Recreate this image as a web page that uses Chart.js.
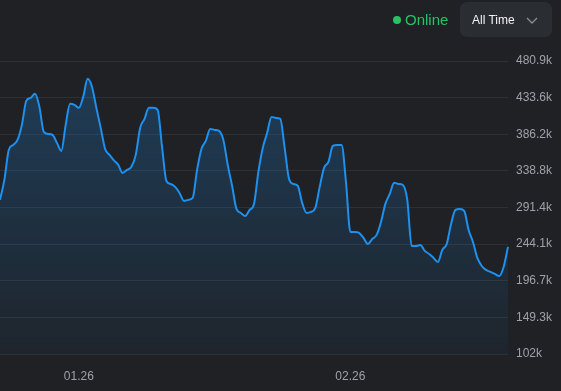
<!DOCTYPE html>
<html>
<head>
<meta charset="utf-8">
<script src="https://cdn.jsdelivr.net/npm/chart.js@4/dist/chart.umd.min.js"></script>
<style>
  html, body { margin: 0; padding: 0; background: #1f2125; }
  #wrap { position: relative; width: 561px; height: 391px; font-family: "Liberation Sans", Arial, sans-serif; }
  #chart { position: absolute; left: 0; top: 0; }
  .status { position: absolute; left: 393px; top: 10px; color: #27c265; font-size: 15px; line-height: 20px; }
  .status .dot { display: inline-block; width: 8px; height: 8px; border-radius: 50%; background: #27c265; margin-right: 4px; vertical-align: 1px; }
  .range { position: absolute; left: 460px; top: 2px; width: 92px; height: 35px; border-radius: 7px; background: #2a2d32; color: #f2f3f5; font-size: 12px; }
  .range span { position: absolute; left: 12px; top: 11px; }
  .range svg { position: absolute; left: 66px; top: 15px; }
</style>
</head>
<body>
<div id="wrap">
  <canvas id="chart" width="561" height="391"></canvas>
  <div class="status"><span class="dot"></span>Online</div>
  <div class="range"><span>All Time</span>
    <svg width="12" height="8" viewBox="0 0 12 8"><polyline points="1,1 6,6 11,1" fill="none" stroke="#8b8f95" stroke-width="1.3"/></svg>
  </div>
</div>
<script>
// half-day samples starting 2025-12-23
const startDate = new Date(2025, 11, 23);
const stepHours = 12;

// values in thousands
const players = [
  301.3, 327.1, 365.9, 372.4, 378.9, 398.3, 429.3, 433.2, 438.4, 421.6,
  389.2, 386.6, 385.4, 375.0, 364.6, 398.3, 425.5, 424.2, 420.3, 434.5,
  457.8, 447.5, 420.3, 394.4, 367.2, 359.5, 352.4, 346.5, 336.2, 340.1,
  344.0, 359.5, 394.4, 406.1, 420.3, 420.3, 417.7, 369.8, 325.8, 321.9,
  318.1, 310.3, 300.0, 301.3, 303.8, 340.1, 367.2, 377.6, 393.1, 391.8,
  390.5, 378.9, 346.5, 319.4, 289.6, 284.4, 280.5, 288.3, 296.1, 337.5,
  368.5, 387.9, 408.6, 407.3, 406.1, 368.5, 328.4, 321.9, 319.4, 297.4,
  284.4, 285.7, 290.9, 318.1, 342.7, 350.4, 371.1, 372.4, 372.4, 324.5,
  259.9, 259.9, 258.6, 252.1, 244.3, 250.8, 256.0, 272.8, 296.1, 309.0,
  323.3, 321.9, 320.6, 301.3, 241.7, 241.7, 243.0, 235.3, 231.4, 226.2,
  221.0, 236.6, 244.3, 270.2, 288.3, 289.6, 287.0, 262.4, 246.9, 226.2,
  215.8, 210.7, 208.1, 205.5, 202.9, 214.5, 240.5
];

const yMin = 102.0;
const yMax = 480.9;
const yTickLabels = ['102k', '149.3k', '196.7k', '244.1k', '291.4k', '338.8k', '386.2k', '433.6k', '480.9k'];

const dates = players.map((v, i) => new Date(startDate.getTime() + i * stepHours * 3600 * 1000));
const labels = dates.map(d => d.toISOString());

function pad2(n) { return n < 10 ? '0' + n : '' + n; }

const ctx = document.getElementById('chart').getContext('2d');

function fillGradient(context) {
  const area = context.chart.chartArea;
  if (!area) return 'rgba(30,144,240,0.15)';
  const g = context.chart.ctx.createLinearGradient(0, area.top, 0, area.bottom);
  g.addColorStop(0, 'rgba(30,144,240,0.26)');
  g.addColorStop(1, 'rgba(30,144,240,0.04)');
  return g;
}

new Chart(ctx, {
  type: 'line',
  data: {
    labels: labels,
    datasets: [{
      data: players,
      borderColor: '#1e90ee',
      borderWidth: 2,
      backgroundColor: fillGradient,
      fill: 'start',
      pointRadius: 0,
      cubicInterpolationMode: 'monotone'
    }]
  },
  options: {
    responsive: false,
    animation: false,
    layout: { padding: { top: 61, bottom: 0, left: 0, right: 0 } },
    plugins: { legend: { display: false }, tooltip: { enabled: false } },
    scales: {
      x: {
        afterFit: scale => { scale.height = 37; },
        grid: { display: false, drawTicks: false },
        border: { display: false },
        ticks: {
          autoSkip: false,
          maxRotation: 0,
          padding: 15,
          color: '#9ea2a8',
          font: { family: 'Liberation Sans', size: 12 },
          callback: (val, idx) => {
            const d = dates[idx];
            if (d.getDate() === 1 && d.getHours() === 0) {
              return pad2(d.getMonth() + 1) + '.' + pad2(d.getFullYear() % 100);
            }
            return null;
          }
        }
      },
      y: {
        position: 'right',
        min: yMin,
        max: yMax,
        afterBuildTicks: scale => {
          const step = (yMax - yMin) / (yTickLabels.length - 1);
          scale.ticks = yTickLabels.map((l, i) => ({ value: yMin + i * step }));
        },
        afterFit: scale => { scale.width = 53; },
        grid: { color: '#2e3035', drawTicks: false },
        border: { display: false },
        ticks: {
          padding: 8,
          color: '#9ea2a8',
          font: { family: 'Liberation Sans', size: 12 },
          callback: (val, idx) => yTickLabels[idx]
        }
      }
    }
  }
});
</script>
</body>
</html>
